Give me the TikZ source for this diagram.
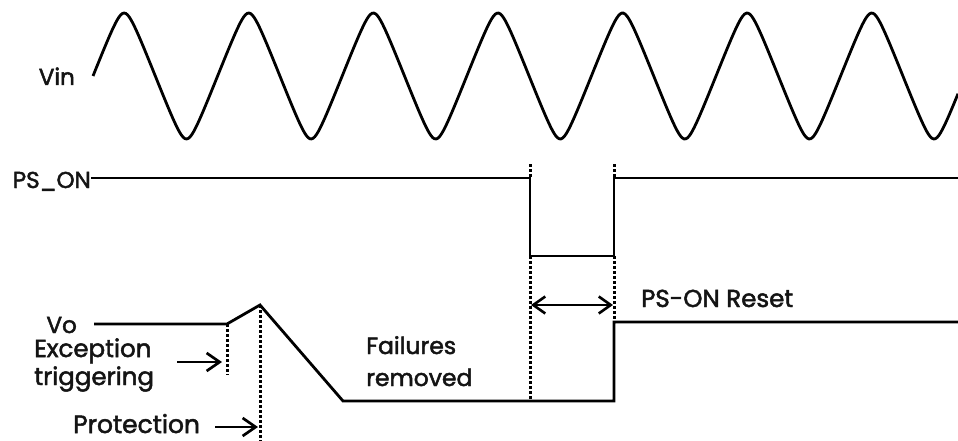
\documentclass[tikz,border=0pt]{standalone}
\usepackage{fontspec}
\setmainfont{Poppins}[FakeBold=2]
\usetikzlibrary{arrows.meta}
\begin{document}
\begin{tikzpicture}[x=1pt,y=-1pt,
  wave/.style={line width=2.8pt, line join=miter},
  guide/.style={line width=3pt, dash pattern=on 2.8pt off 2.2pt},
  pointer/.style={line width=2.7pt, -{Straight Barb[length=13pt,width=18pt,line width=2.7pt]}},
  both/.style={line width=2.6pt, {Straight Barb[length=12pt,width=17pt,line width=2.6pt]}-{Straight Barb[length=12pt,width=17pt,line width=2.6pt]}},
  lbl/.style={inner sep=0pt, font=\fontsize{23}{30}\selectfont, text=black!92}]
\useasboundingbox[fill=white] (0,0) rectangle (958,441);

% labels
\node[lbl, anchor=base east] (vin) at (75,85) {Vin};
\node[lbl, anchor=base east] (pson) at (91,188) {PS\_ON};
\node[lbl, anchor=base east] (vo) at (77,333) {Vo};
\node[lbl, anchor=base west, align=left, font=\fontsize{24.5}{28}\selectfont] (exc) at (34,385) {Exception\\triggering};
\node[lbl, anchor=base west, font=\fontsize{25}{30}\selectfont] (prot) at (73,433) {Protection};
\node[lbl, anchor=base west, align=left, font=\fontsize{23.5}{32}\selectfont] (fail) at (366,386) {Failures\\removed};
\node[lbl, anchor=base west, font=\fontsize{24.5}{30}\selectfont] (reset) at (641,307) {PS-ON Reset};

% Vin sine
\draw[wave] plot[domain=93:958, samples=500, smooth] (\x, {76 - 63*asin(0.93*sin((\x-93)/124.6*360))/asin(0.93)});

% PS_ON waveform
\coordinate (p1) at (530,178);
\coordinate (p2) at (530,256);
\coordinate (p3) at (614,256);
\coordinate (p4) at (614,178);
\coordinate (p5) at (958,178);
\draw[wave] (pson.east |- p1) -- (p1) -- (p2) -- (p3) -- (p4) -- (p5);

% Vo waveform
\coordinate (v0) at (94,324);
\coordinate (v1) at (227,324);
\coordinate (v2) at (260,305);
\coordinate (v3) at (343,401);
\coordinate (v4) at (614,401);
\coordinate (v5) at (614,322);
\coordinate (v6) at (958,322);
\draw[wave] (v0) -- (v1) -- (v2) -- (v3) -- (v4) -- (v5) -- (v6);

% guides
\coordinate (g1) at (530,164);
\coordinate (g2) at (614,164);
\coordinate (g3) at (530,401);
\coordinate (g4) at (227,375);
\coordinate (g5) at (260,441);
\draw[guide] (g1) -- (p1);
\draw[guide] (g2) -- (p4);
\draw[guide] (p2) -- (g3);
\draw[guide] (p3) -- (v5);
\draw[guide] (v1) -- (g4);
\draw[guide] (v2) -- (g5);

% arrows
\coordinate (a1s) at (177,362);
\coordinate (a1e) at (222,362);
\coordinate (a2s) at (215,427);
\coordinate (a2e) at (258,427);
\coordinate (a3s) at (531,305);
\coordinate (a3e) at (613,305);
\draw[pointer] (a1s) -- (a1e);
\draw[pointer] (a2s) -- (a2e);
\draw[both] (a3s) -- (a3e);
\end{tikzpicture}
\end{document}
